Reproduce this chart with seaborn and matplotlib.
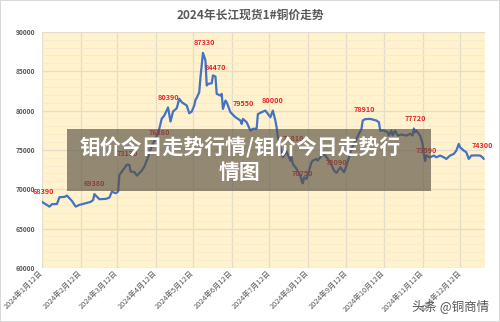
import pandas as pd
import matplotlib.pyplot as plt
import matplotlib.dates as mdates
from matplotlib.ticker import MultipleLocator, FuncFormatter
from matplotlib.patches import Rectangle
import seaborn as sns

sns.set_theme(style='white')
plt.rcParams['font.family'] = ['Noto Sans CJK SC', 'DejaVu Sans']

# Data
dates = [
    '2024-01-12', '2024-01-18', '2024-01-20', '2024-01-24', '2024-01-26', '2024-01-30',
    '2024-02-01', '2024-02-05', '2024-02-08', '2024-02-11', '2024-02-20', '2024-02-22',
    '2024-02-23', '2024-02-27', '2024-03-03', '2024-03-06', '2024-03-08', '2024-03-11',
    '2024-03-13', '2024-03-14', '2024-03-18', '2024-03-20', '2024-03-22', '2024-03-23',
    '2024-03-26', '2024-03-28', '2024-04-01', '2024-04-03', '2024-04-06', '2024-04-09',
    '2024-04-12', '2024-04-15', '2024-04-17', '2024-04-19', '2024-04-22', '2024-04-24',
    '2024-04-26', '2024-04-29', '2024-05-01', '2024-05-03', '2024-05-07', '2024-05-09',
    '2024-05-11', '2024-05-13', '2024-05-14', '2024-05-15', '2024-05-17', '2024-05-18',
    '2024-05-20', '2024-05-22', '2024-05-23', '2024-05-24', '2024-05-27', '2024-05-28',
    '2024-05-30', '2024-05-31', '2024-06-03', '2024-06-04', '2024-06-05', '2024-06-07',
    '2024-06-08', '2024-06-11', '2024-06-15', '2024-06-19', '2024-06-20', '2024-06-21',
    '2024-06-24', '2024-06-27', '2024-06-29', '2024-07-02', '2024-07-03', '2024-07-06',
    '2024-07-09', '2024-07-11', '2024-07-13', '2024-07-15', '2024-07-17', '2024-07-18',
    '2024-07-19', '2024-07-21', '2024-07-23', '2024-07-26', '2024-07-29', '2024-07-30',
    '2024-07-31', '2024-08-03', '2024-08-06', '2024-08-07', '2024-08-08', '2024-08-09',
    '2024-08-11', '2024-08-13', '2024-08-15', '2024-08-16', '2024-08-19', '2024-08-20',
    '2024-08-22', '2024-08-24', '2024-08-26', '2024-08-30', '2024-09-02', '2024-09-04',
    '2024-09-07', '2024-09-10', '2024-09-12', '2024-09-16', '2024-09-20', '2024-09-24',
    '2024-09-25', '2024-09-27', '2024-10-01', '2024-10-04', '2024-10-06', '2024-10-08',
    '2024-10-09', '2024-10-12', '2024-10-15', '2024-10-16', '2024-10-18', '2024-10-19',
    '2024-10-21', '2024-10-23', '2024-10-26', '2024-10-30', '2024-11-02', '2024-11-04',
    '2024-11-05', '2024-11-06', '2024-11-07', '2024-11-10', '2024-11-12', '2024-11-13',
    '2024-11-14', '2024-11-15', '2024-11-18', '2024-11-21', '2024-11-23', '2024-11-26',
    '2024-11-29', '2024-12-01', '2024-12-04', '2024-12-07', '2024-12-09', '2024-12-11',
    '2024-12-12', '2024-12-15', '2024-12-17', '2024-12-19', '2024-12-21', '2024-12-25',
    '2024-12-28', '2024-12-30', '2024-12-31',
]
prices = [
    68390, 67790, 68100, 68130, 68990, 69020,
    69190, 68510, 67790, 68010, 68390, 68640,
    69380, 68730, 68770, 68930, 69700, 69490,
    69700, 71820, 72670, 73130, 73090, 72240,
    72200, 71730, 72370, 72880, 74060, 75550,
    76380, 77710, 78980, 79360, 80390, 78600,
    79870, 80300, 81500, 81060, 80640, 79660,
    79870, 80640, 81360, 81610, 82330, 84240,
    87330, 86360, 83180, 83390, 83470, 84470,
    84320, 82120, 81910, 82120, 80210, 81270,
    81060, 79790, 79150, 78730, 78300, 78940,
    78510, 77460, 77670, 77710, 79550, 79790,
    80000, 79580, 79150, 80000, 78730, 77880,
    76610, 75330, 74060, 74810, 73630, 74060,
    73210, 72580, 71730, 71090, 70750, 71520,
    71310, 72370, 73430, 73640, 73850, 73640,
    74060, 74490, 74280, 73420, 72370, 72090,
    72790, 72160, 73010, 75130, 76400, 77670,
    78730, 78910, 78940, 78810, 78730, 78510,
    77460, 77460, 77240, 76820, 77460, 76820,
    77460, 76820, 76950, 76820, 77040, 76820,
    77720, 77240, 77460, 76820, 75760, 74490,
    73590, 74280, 74060, 74280, 74060, 74280,
    74060, 73850, 74280, 74490, 74910, 75760,
    75330, 74910, 74700, 73850, 74280, 74300,
    74280, 74060, 73850,
]

label_dates = ['2024-01-12', '2024-02-23', '2024-03-20', '2024-04-12', '2024-04-22',
               '2024-05-20', '2024-05-28', '2024-06-21', '2024-07-15', '2024-07-26',
               '2024-08-08', '2024-09-04', '2024-09-27', '2024-11-05', '2024-11-14',
               '2024-12-25']
label_texts = ['68390', '69380', '73130', '76380', '80390', '87330', '84470', '79550',
               '80000', '74810', '70750', '72090', '78910', '77720', '73590', '74300']
# label offsets in pixels (layout only)
label_offsets = [(1, 10), (0, 11), (0, 11), (4, 7), (0, 10), (1, 10), (2, 8), (0, 15),
                 (0, 10), (7, 13), (0, 10), (0, 10), (-1, 10), (2, 10), (1, 10), (6, 10)]

df = pd.DataFrame({'date': pd.to_datetime(dates), 'price': prices})

fig = plt.figure(figsize=(5, 3.22), dpi=100)
fig.patch.set_edgecolor('#D9D9D9')
fig.patch.set_linewidth(1.2)
ax = fig.add_axes([0.084, 0.168, 0.886, 0.733])
ax.set_facecolor('#FFF2CC')

sns.lineplot(data=df, x='date', y='price', ax=ax, color='#4472C4', lw=1.6, zorder=3)

ax.set_xlim(pd.Timestamp('2024-01-12'), pd.Timestamp('2025-01-01'))
ax.set_ylim(60000, 90000)
ax.yaxis.set_major_locator(MultipleLocator(5000))
ax.yaxis.set_minor_locator(MultipleLocator(1000))
ax.xaxis.set_major_locator(mdates.MonthLocator(bymonthday=12))
ax.xaxis.set_major_formatter(FuncFormatter(
    lambda v, p: '{0.year}年{0.month}月{0.day}日'.format(mdates.num2date(v))))

ax.grid(which='major', axis='both', color='#E4DDCB', lw=0.9)
ax.grid(which='minor', axis='y', color='#F5EAD0', lw=0.6)
ax.set_axisbelow(True)
for s in ax.spines.values():
    s.set_visible(False)

ax.set_xlabel('')
ax.set_ylabel('')
ax.tick_params(axis='both', length=0)
ax.tick_params(axis='y', labelsize=4.8, labelcolor='#595959', pad=5)
ax.tick_params(axis='x', labelsize=5.3, labelcolor='#595959', pad=3)
for t in ax.get_yticklabels():
    t.set_fontweight('bold')
for t in ax.get_xticklabels():
    t.set_rotation(45)
    t.set_ha('right')
    t.set_va('center')
    t.set_rotation_mode('anchor')

lookup = dict(zip(df['date'], df['price']))
for d, txt, off in zip(label_dates, label_texts, label_offsets):
    dt = pd.Timestamp(d)
    ax.annotate(txt, (dt, lookup[dt]), xytext=off, textcoords='offset pixels',
                ha='center', va='center', color='#E3262B', fontsize=5.2,
                fontweight='bold', zorder=4, annotation_clip=False)

fig.text(0.5, 0.953, '2024年长江现货1#铜价走势', ha='center', va='center',
         fontsize=8.5, fontweight='bold', color='#595959')

# overlay banner
fig.patches.append(Rectangle((0.134, 0.407), 0.728, 0.1925, transform=fig.transFigure,
                             facecolor='#5A5040', alpha=0.65, edgecolor='none', zorder=5))
fig.text(0.48, 0.503, '钼价今日走势行情/钼价今日走势行\n情图', ha='center', va='center',
         multialignment='center', fontsize=15, fontweight='bold', color='white',
         linespacing=1.25, zorder=6)

fig.text(0.902, 0.05, '头条 @铜商情', ha='center', va='center', fontsize=9,
         color='#555555', zorder=6)

plt.savefig('out.png', dpi=100)
